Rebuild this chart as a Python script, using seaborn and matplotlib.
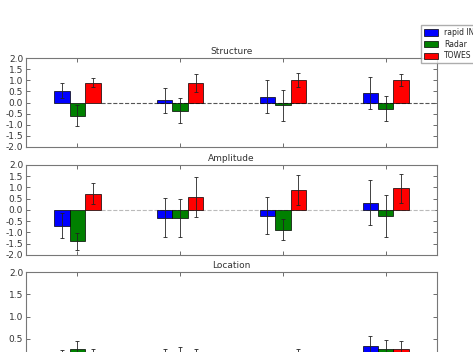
import numpy as np
import pandas as pd
import matplotlib
matplotlib.use("Agg")
import matplotlib.pyplot as plt
import seaborn as sns

groups = ["1", "2", "3", "4"]
sources = ["rapid INCA", "Radar", "TOWES"]
colors = ["#0000ff", "#008000", "#ff0000"]

# Structure
structure_vals = {
    "rapid INCA": [0.52, 0.10, 0.26, 0.41],
    "Radar": [-0.60, -0.37, -0.13, -0.28],
    "TOWES": [0.89, 0.86, 1.01, 1.01],
}
structure_err = {
    "rapid INCA": [0.34, 0.56, 0.75, 0.72],
    "Radar": [0.47, 0.55, 0.69, 0.55],
    "TOWES": [0.20, 0.40, 0.32, 0.25],
}

# Amplitude
amplitude_vals = {
    "rapid INCA": [-0.70, -0.34, -0.25, 0.33],
    "Radar": [-1.40, -0.36, -0.87, -0.27],
    "TOWES": [0.73, 0.56, 0.89, 0.96],
}
amplitude_err = {
    "rapid INCA": [0.56, 0.87, 0.82, 1.00],
    "Radar": [0.38, 0.85, 0.47, 0.94],
    "TOWES": [0.46, 0.89, 0.65, 0.65],
}

# Location
location_vals = {
    "rapid INCA": [0.10, 0.12, 0.10, 0.33],
    "Radar": [0.27, 0.15, 0.08, 0.27],
    "TOWES": [0.10, 0.10, 0.12, 0.27],
}
location_err = {
    "rapid INCA": [0.15, 0.15, 0.11, 0.23],
    "Radar": [0.19, 0.16, 0.10, 0.21],
    "TOWES": [0.17, 0.16, 0.15, 0.19],
}

panels = [
    ("Structure", structure_vals, structure_err, (-2, 2), "#555555"),
    ("Amplitude", amplitude_vals, amplitude_err, (-2, 2), "#bbbbbb"),
    ("Location", location_vals, location_err, (0, 2), None),
]

sns.set_style("ticks")
plt.rcParams["font.family"] = ["DejaVu Sans"]

fig = plt.figure(figsize=(4.73, 3.52), dpi=100)
left, width = 0.055, 0.869
positions = [(left, 0.5824, width, 0.2528),
             (left, 0.2756, width, 0.2557),
             (left, -0.0256, width, 0.2528)]

axes = []
for (title, vals, errs, ylim, line_color), pos in zip(panels, positions):
    ax = fig.add_axes(pos)
    df = pd.DataFrame([(g, s, vals[s][i], errs[s][i])
                       for s in sources for i, g in enumerate(groups)],
                      columns=["group", "source", "value", "err"])
    sns.barplot(data=df, x="group", y="value", hue="source", hue_order=sources,
                palette=colors, width=0.45, errorbar=None, saturation=1,
                edgecolor="black", linewidth=0.5, legend=False, ax=ax, zorder=2)

    # error bars at the bar centres
    for s, cont in zip(sources, ax.containers):
        xs = [b.get_x() + b.get_width() / 2 for b in cont]
        ys = [b.get_height() for b in cont]
        ax.errorbar(xs, ys, yerr=errs[s], fmt="none", ecolor="#222222",
                    elinewidth=0.6, capsize=1.2, capthick=0.6, zorder=3)

    if line_color is not None:
        ax.hlines(0, 0.23, 3.5, colors=line_color, linestyles="--",
                  linewidth=0.8, zorder=1)

    ax.set_xlim(-0.5, 3.5)
    ax.set_ylim(*ylim)
    ax.set_yticks(np.arange(ylim[0], ylim[1] + 0.01, 0.5))
    ax.set_yticklabels([f"{v:.1f}" for v in np.arange(ylim[0], ylim[1] + 0.01, 0.5)])
    ax.set_xticks(range(len(groups)))
    ax.set_xticklabels([])
    ax.set_xlabel("")
    ax.set_ylabel("")
    ax.tick_params(direction="in", top=True, right=True, length=3, width=0.5,
                   labelsize=6.5, colors="#333333", pad=2)
    for sp in ax.spines.values():
        sp.set_color("#777777")
        sp.set_linewidth(0.8)
    ax.set_title(title, fontsize=6.5, color="#333333", pad=3)
    axes.append(ax)

handles = [plt.Rectangle((0, 0), 1, 1, facecolor=c, edgecolor="black", linewidth=0.5)
           for c in colors]
fig.legend(handles, sources, loc="upper left", bbox_to_anchor=(0.882, 0.94),
           fontsize=5.5, frameon=True, fancybox=False, edgecolor="#999999",
           handlelength=1.8, handleheight=0.9, labelspacing=0.35,
           borderpad=0.4, handletextpad=0.8)

fig.savefig("out.png", dpi=100)
